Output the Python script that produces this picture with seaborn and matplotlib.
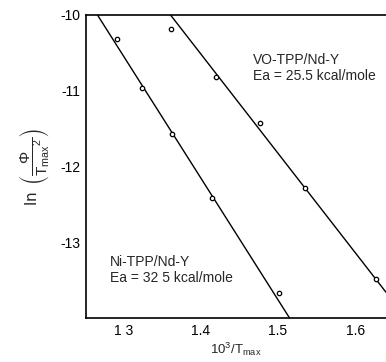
import numpy as np
import pandas as pd
import seaborn as sns
import matplotlib
matplotlib.use("Agg")
import matplotlib.pyplot as plt

# Data
ni_x = [1.291, 1.323, 1.362, 1.414, 1.501]
ni_y = [-10.32, -10.96, -11.57, -12.42, -13.67]
vo_x = [1.361, 1.419, 1.477, 1.535, 1.627]
vo_y = [-10.18, -10.82, -11.42, -12.28, -13.49]
# fitted lines (slope, intercept)
ni_fit = (-16.06, 10.33)
vo_fit = (-13.10, 7.824)
x_ticks = [1.3, 1.4, 1.5, 1.6]
x_ticklabels = ["1 3", "1.4", "1.5", "1.6"]
y_ticks = [-10, -11, -12, -13]
y_ticklabels = ["-10", "-11", "-12", "-13"]

sns.set_style("white")
plt.rcParams["font.family"] = ["Liberation Sans", "DejaVu Sans"]
plt.rcParams["mathtext.default"] = "regular"

fig = plt.figure(figsize=(3.86, 3.62), dpi=100)
ax = fig.add_axes([0.2228, 0.1215, 0.7772, 0.8371])

pts = pd.DataFrame({"x": ni_x + vo_x, "y": ni_y + vo_y,
                    "s": ["Ni"] * len(ni_x) + ["VO"] * len(vo_x)})
xl = np.array([1.25, 1.64])
lines = pd.DataFrame({
    "x": np.concatenate([xl, xl]),
    "y": np.concatenate([ni_fit[0] * xl + ni_fit[1], vo_fit[0] * xl + vo_fit[1]]),
    "s": ["Ni", "Ni", "VO", "VO"]})

sns.lineplot(data=lines, x="x", y="y", units="s", estimator=None,
             color="black", lw=1.0, ax=ax, legend=False)
sns.scatterplot(data=pts, x="x", y="y", marker="o", s=10,
                facecolor="white", edgecolor="black", linewidth=0.9,
                ax=ax, legend=False, zorder=3)

ax.set_xlim(1.251, 1.64)
ax.set_ylim(-14, -10)
ax.set_xticks(x_ticks)
ax.set_xticklabels(x_ticklabels, fontsize=10)
ax.set_yticks(y_ticks)
ax.set_yticklabels(y_ticklabels, fontsize=10)
ax.tick_params(direction="in", length=6, width=1, colors="black", pad=4)
for sp in ["left", "bottom", "top"]:
    ax.spines[sp].set_color("black")
    ax.spines[sp].set_linewidth(1.2)
ax.spines["right"].set_visible(False)

ax.set_xlabel(r"$10^{3}/T_{max}$", fontsize=9.5, labelpad=2)
ax.set_ylabel(r"$\ln\ \left(\dfrac{\Phi}{T_{max}{}^{2}}\right)$", fontsize=11, labelpad=6)

ax.text(1.468, -10.7, "VO-TPP/Nd-Y\nEa = 25.5 kcal/mole", fontsize=10,
        va="center", ha="left", linespacing=1.2)
ax.text(1.282, -13.37, "Ni-TPP/Nd-Y\nEa = 32 5 kcal/mole", fontsize=10,
        va="center", ha="left", linespacing=1.2)

fig.savefig("out.png", dpi=100)
